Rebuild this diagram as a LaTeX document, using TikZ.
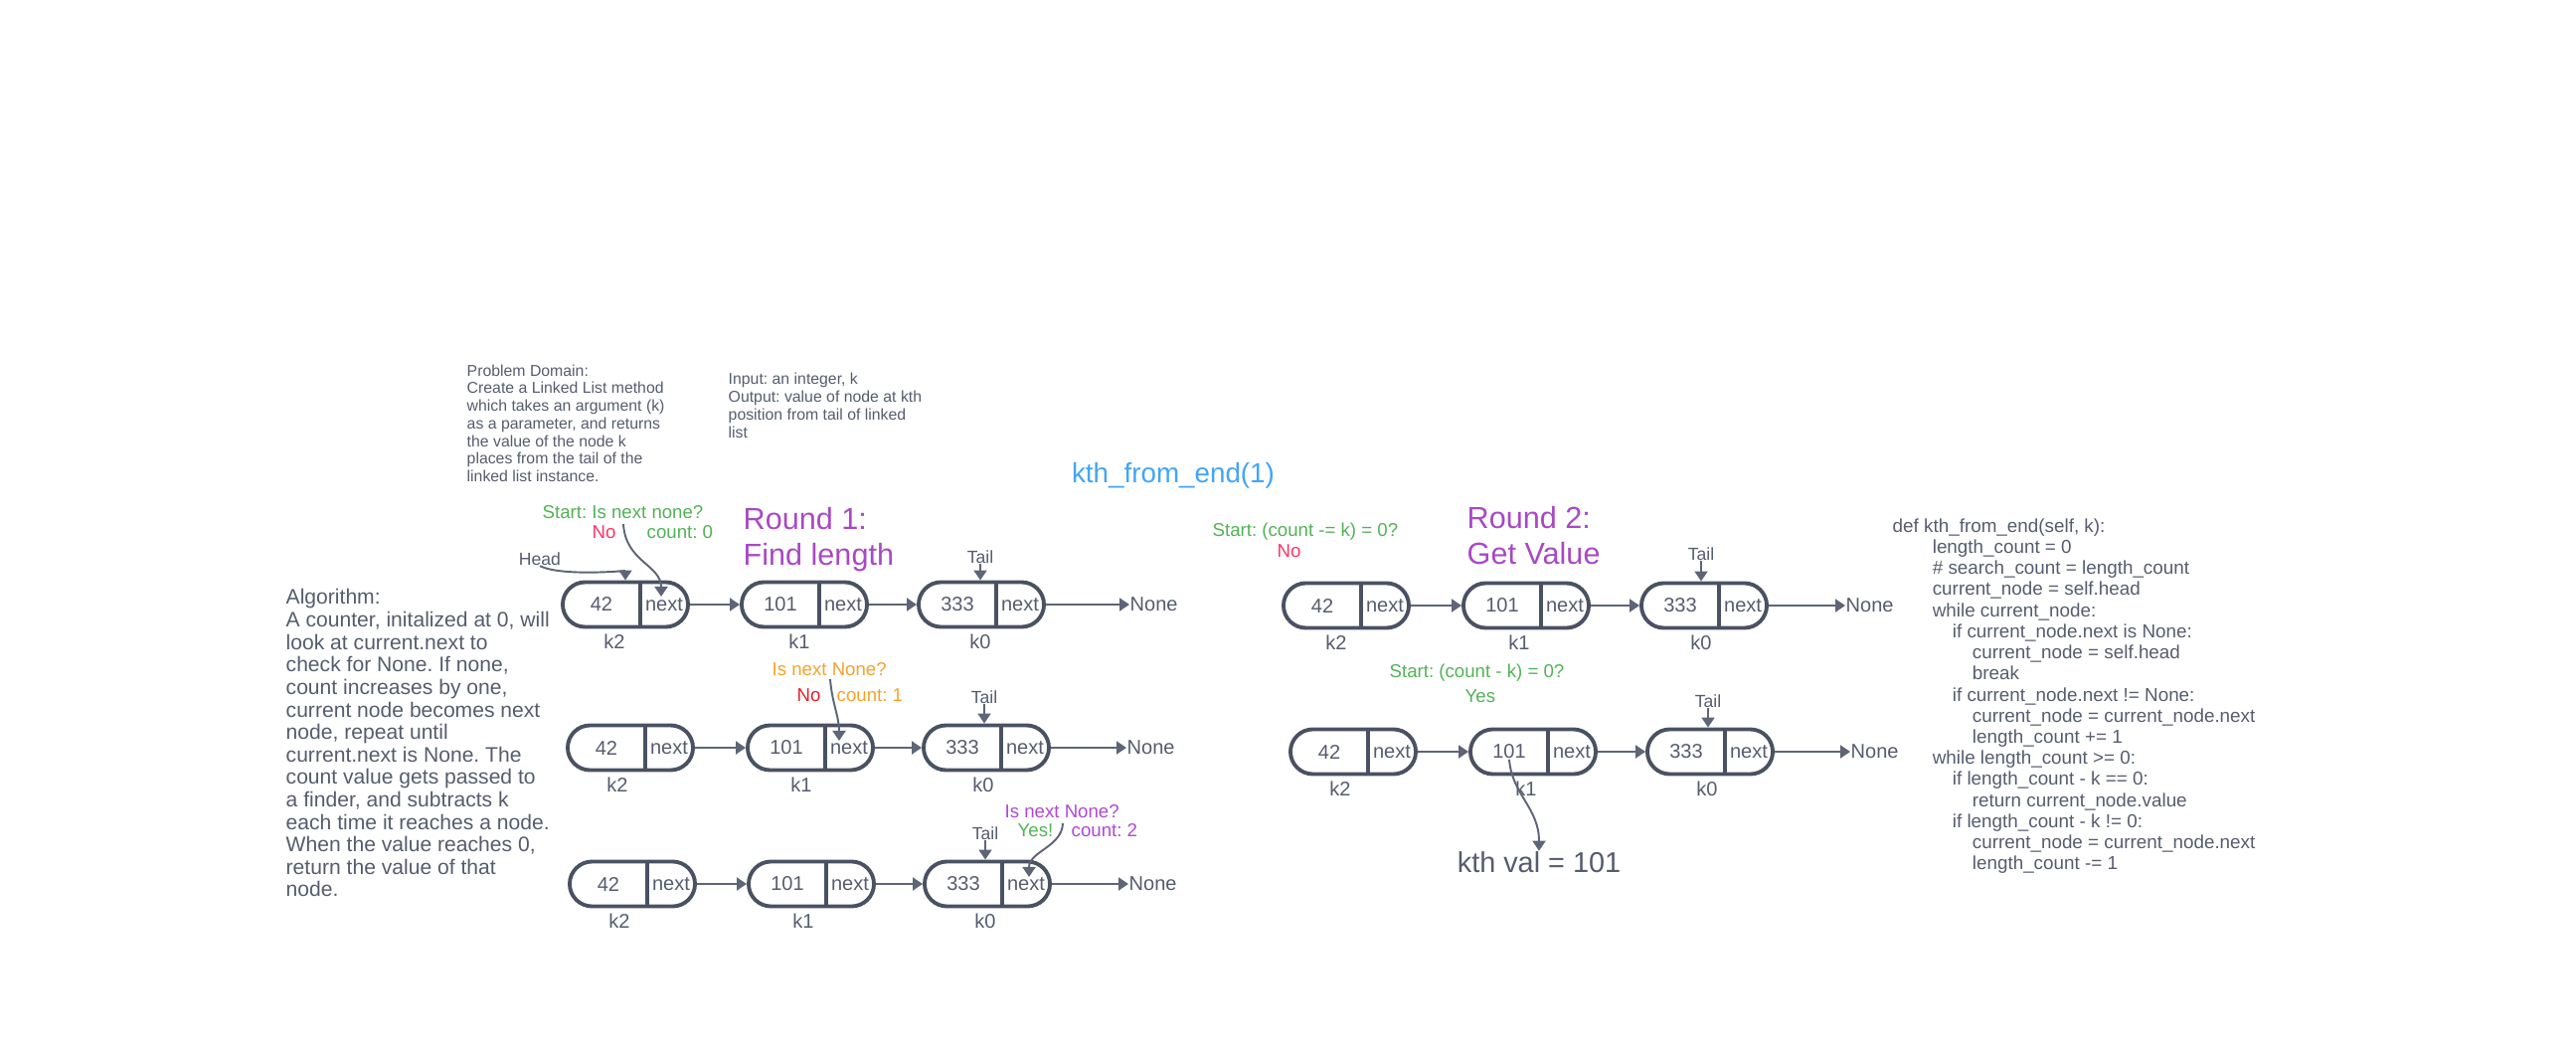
\documentclass[tikz,border=0pt]{standalone}
\usepackage{fontspec}
\setmainfont{Liberation Sans}
\usetikzlibrary{arrows.meta}
\frenchspacing
\definecolor{txtgray}{HTML}{555C6E}
\definecolor{boxgray}{HTML}{4A5163}
\definecolor{lngray}{HTML}{5E6577}
\definecolor{okgreen}{HTML}{52B257}
\definecolor{nopink}{HTML}{FF3366}
\definecolor{nored}{HTML}{E3202A}
\definecolor{orng}{HTML}{F5A32A}
\definecolor{purp}{HTML}{A849C4}
\definecolor{purpb}{HTML}{B048D2}
\definecolor{titblue}{HTML}{42A5F5}
\newcommand\LLnode[6]{%
  \node[llbox] (#1) at (#2,#3) {};
  \draw[divline] ([xshift=0.15cm]#1.north) -- ([xshift=0.15cm]#1.south);
  \node[lltxt] (#1v) at ([xshift=-0.24cm]#1.center) {#4};
  \node[lltxt] (#1n) at ([xshift=0.39cm]#1.center) {next};
  \node[lltxt] (#1k) at (#5,#3+37) {#6};
}
\begin{document}
\begin{tikzpicture}[x=0.01cm,y=-0.01cm,
  llbox/.style={draw=boxgray, line width=1.1pt, rounded corners=0.225cm, minimum width=1.26cm, minimum height=0.45cm, inner sep=0},
  divline/.style={draw=boxgray, line width=1.1pt},
  lltxt/.style={text=txtgray, inner sep=0, font=\fontsize{5.7}{6.8}\selectfont},
  conn/.style={draw=lngray, line width=0.55pt, -{Triangle[length=0.1cm,width=0.13cm]}},
  note/.style={inner sep=0, anchor=west, font=\fontsize{5.3}{6.3}\selectfont},
  ptr/.style={text=txtgray, inner sep=0, font=\fontsize{5}{6}\selectfont},
  block/.style={text=txtgray, inner sep=0, anchor=north west, align=left},
  big/.style={inner sep=0, anchor=north west, align=left, font=\fontsize{8.7}{10.24}\selectfont}
]
\useasboundingbox (0,0) rectangle (2591,1055);

% ---------- text blocks ----------
\node[block, font=\fontsize{4.5}{5.04}\selectfont] (prob) at (469,366) {Problem Domain:\\Create a Linked List method\\which takes an argument (k)\\as a parameter, and returns\\the value of the node k\\places from the tail of the\\linked list instance.};
\node[block, font=\fontsize{4.5}{5.12}\selectfont] (inout) at (732,374) {Input: an integer, k\\Output: value of node at kth\\position from tail of linked\\list};
\node[inner sep=0, text=titblue, font=\fontsize{7.9}{9.5}\selectfont] (title) at (1180,478) {kth\_from\_end(1)};
\node[big, text=purp] (round1) at (747,510) {Round 1:\\Find length};
\node[big, text=purp] (round2) at (1475,509) {Round 2:\\Get Value};
\node[block, font=\fontsize{6.0}{6.43}\selectfont] (algo) at (287,592) {Algorithm:\\A counter, initalized at 0, will\\look at current.next to\\check for None. If none,\\count increases by one,\\current node becomes next\\node, repeat until\\current.next is None. The\\count value gets passed to\\a finder, and subtracts k\\each time it reaches a node.\\When the value reaches 0,\\return the value of that\\node.};
\node[block, font=\fontsize{5.36}{6.03}\selectfont] (code) at (1903,521) {def kth\_from\_end(self, k):\\
\hspace*{11.4pt}length\_count = 0\\
\hspace*{11.4pt}\# search\_count = length\_count\\
\hspace*{11.4pt}current\_node = self.head\\
\hspace*{11.4pt}while current\_node:\\
\hspace*{17.1pt}if current\_node.next is None:\\
\hspace*{22.8pt}current\_node = self.head\\
\hspace*{22.8pt}break\\
\hspace*{17.1pt}if current\_node.next != None:\\
\hspace*{22.8pt}current\_node = current\_node.next\\
\hspace*{22.8pt}length\_count += 1\\
\hspace*{11.4pt}while length\_count >= 0:\\
\hspace*{17.1pt}if length\_count - k == 0:\\
\hspace*{22.8pt}return current\_node.value\\
\hspace*{17.1pt}if length\_count - k != 0:\\
\hspace*{22.8pt}current\_node = current\_node.next\\
\hspace*{22.8pt}length\_count -= 1};

% ---------- round 1 rows ----------
\LLnode{ra1}{629}{608}{42}{618}{k2}
\LLnode{ra2}{809}{608}{101}{804}{k1}
\LLnode{ra3}{987}{608}{333}{986}{k0}
\LLnode{rb1}{634}{752}{42}{621}{k2}
\LLnode{rb2}{815}{752}{101}{806}{k1}
\LLnode{rb3}{992}{752}{333}{989}{k0}
\LLnode{rc1}{636}{889}{42}{623}{k2}
\LLnode{rc2}{816}{889}{101}{808}{k1}
\LLnode{rc3}{993}{889}{333}{991}{k0}
% ---------- round 2 rows ----------
\LLnode{rd1}{1354}{609}{42}{1344}{k2}
\LLnode{rd2}{1535}{609}{101}{1528}{k1}
\LLnode{rd3}{1714}{609}{333}{1711}{k0}
\LLnode{re1}{1361}{756}{42}{1348}{k2}
\LLnode{re2}{1542}{756}{101}{1535}{k1}
\LLnode{re3}{1720}{756}{333}{1717}{k0}

% None nodes
\node[lltxt, anchor=west] (ranone) at (1136,608) {None};
\node[lltxt, anchor=west] (rbnone) at (1133,752) {None};
\node[lltxt, anchor=west] (rcnone) at (1135,889) {None};
\node[lltxt, anchor=west] (rdnone) at (1856,609) {None};
\node[lltxt, anchor=west] (renone) at (1861,756) {None};

% list connectors
\foreach \r in {ra,rb,rc,rd,re}{
  \draw[conn] (\r1.east) -- (\r2.west);
  \draw[conn] (\r2.east) -- (\r3.west);
  \draw[conn] (\r3.east) -- (\r none.west);
}

% Head / Tail pointers
\node[ptr] (head) at (543,562) {Head};
\draw[conn] (head.south) .. controls (565,580) and (629,574) .. (ra1.north);
\node[ptr] (tla) at (986,560) {Tail};
\draw[conn] (tla.south) -- (tla.south |- ra3.north);
\node[ptr] (tlb) at (990,701) {Tail};
\draw[conn] (tlb.south) -- (tlb.south |- rb3.north);
\node[ptr] (tlc) at (991,838) {Tail};
\draw[conn] (tlc.south) -- (tlc.south |- rc3.north);
\node[ptr] (tld) at (1711,557) {Tail};
\draw[conn] (tld.south) -- (tld.south |- rd3.north);
\node[ptr] (tle) at (1718,705) {Tail};
\draw[conn] (tle.south) -- (tle.south |- re3.north);

% annotations round 1
\node[note, text=okgreen] (qa) at (545,515) {Start: Is next none?};
\node[note, text=nopink] (noa) at (595,535) {No};
\node[note, text=okgreen] (cnta) at (650,535) {count: 0};
\coordinate (sa1) at (627,527);
\coordinate (sa2) at (665,600);
\draw[conn] (sa1) .. controls (629,565) and (665,568) .. (sa2);

\node[note, text=orng] (qb) at (776,673) {Is next None?};
\node[note, text=nored] (nob) at (801,699) {No};
\node[note, text=orng] (cntb) at (841,699) {count: 1};
\coordinate (sb1) at (835,683);
\coordinate (sb2) at (844,745);
\draw[conn] (sb1) .. controls (837,708) and (844,720) .. (sb2);

\node[note, text=purpb] (qc) at (1010,816) {Is next None?};
\node[note, text=okgreen] (yesc) at (1023,835) {Yes!};
\node[note, text=purpb] (cntc) at (1077,835) {count: 2};
\coordinate (sc1) at (1069,828);
\coordinate (sc2) at (1035,882);
\draw[conn] (sc1) .. controls (1068,852) and (1035,856) .. (sc2);

% annotations round 2
\node[note, text=okgreen] (qd) at (1219,535) {Start: (count -= k) = 0?};
\node[note, text=nopink] (nod) at (1284,554) {No};
\node[note, text=okgreen] (qe) at (1397,677) {Start: (count - k) = 0?};
\node[note, text=okgreen] (yese) at (1473,700) {Yes};

\node[inner sep=0, text=txtgray, font=\fontsize{8.2}{9.8}\selectfont] (kval) at (1548,867) {kth val = 101};
\draw[conn] (re2v.south) .. controls (1521,800) and (1548,812) .. (kval.north);
\end{tikzpicture}
\end{document}
